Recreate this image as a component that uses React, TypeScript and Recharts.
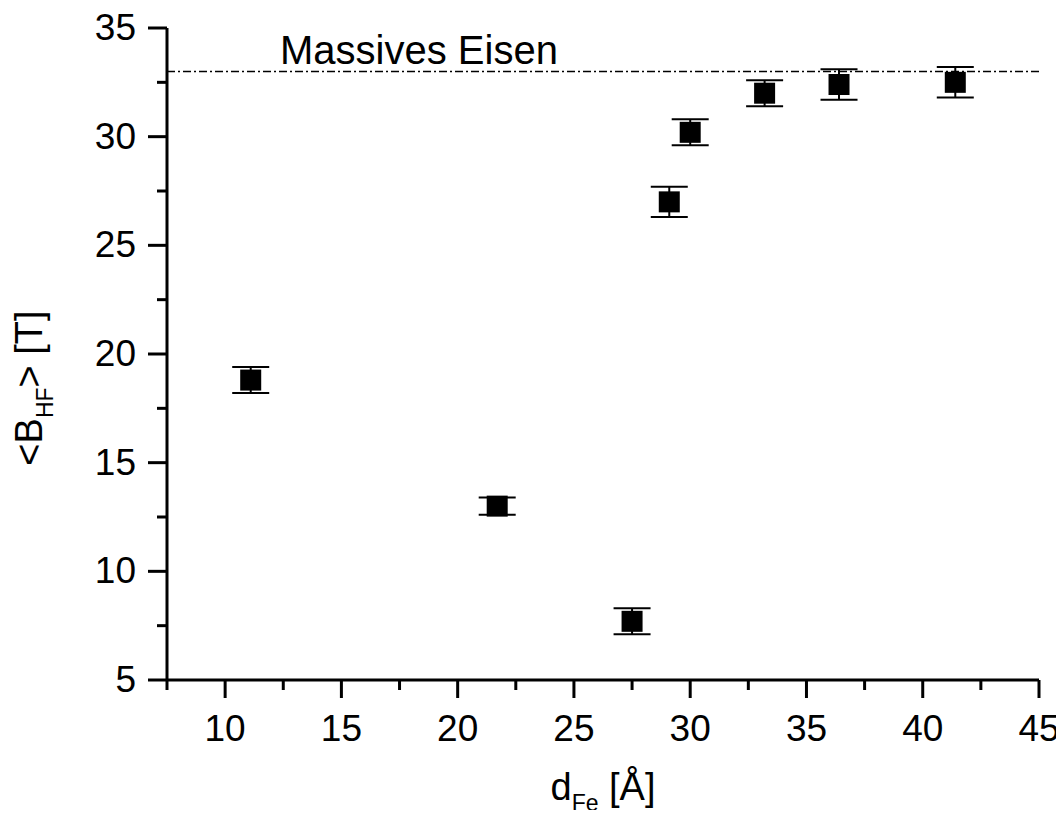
import { ScatterChart, Scatter, XAxis, YAxis, ErrorBar, ReferenceLine } from 'recharts';

// film thickness d_Fe [Å]
const thickness = [11.1, 21.7, 27.5, 29.1, 30.0, 33.2, 36.4, 41.4];
// mean hyperfine field <B_HF> [T]
const field = [18.8, 13.0, 7.7, 27.0, 30.2, 32.0, 32.4, 32.5];
// error bars [T]
const fieldErr = [0.6, 0.4, 0.6, 0.7, 0.6, 0.6, 0.7, 0.7];

// bulk iron reference value
const BULK_FE = 33;

// major ticks every 5, minor ticks in between
const xTicks = [7.5, 10, 12.5, 15, 17.5, 20, 22.5, 25, 27.5, 30, 32.5, 35, 37.5, 40, 42.5, 45];
const yTicks = [5, 7.5, 10, 12.5, 15, 17.5, 20, 22.5, 25, 27.5, 30, 32.5, 35];

const data = thickness.map((x, i) => ({ x, y: field[i], err: fieldErr[i] }));

const FONT = '"Liberation Sans", Arial, Helvetica, sans-serif';

const XTick = (props: any) => {
  const { x, y, payload } = props;
  const major = payload.value % 5 === 0;
  return (
    <g>
      <line x1={x} y1={y} x2={x} y2={y + (major ? 18 : 10)} stroke="#000" strokeWidth={3} />
      {major && (
        <text x={x} y={y + 61} textAnchor="middle" fontSize={37} fontFamily={FONT} fill="#000">
          {payload.value}
        </text>
      )}
    </g>
  );
};

const YTick = (props: any) => {
  const { x, y, payload } = props;
  const major = payload.value % 5 === 0;
  return (
    <g>
      <line x1={x} y1={y} x2={x - (major ? 19 : 10)} y2={y} stroke="#000" strokeWidth={3} />
      {major && (
        <text x={x - 31} y={y + 12} textAnchor="end" fontSize={37} fontFamily={FONT} fill="#000">
          {payload.value}
        </text>
      )}
    </g>
  );
};

const Square = (props: any) => {
  const { cx, cy } = props;
  return <rect x={cx - 10.5} y={cy - 10.5} width={21} height={21} fill="#000" />;
};

export default function App() {
  return (
    <div style={{ width: 1064, height: 818, margin: -8, background: '#fff' }}>
      <ScatterChart width={1064} height={818} margin={{ top: 28, right: 25, bottom: 78, left: 67 }}>
        <XAxis
          type="number"
          dataKey="x"
          domain={[7.5, 45]}
          ticks={xTicks}
          interval={0}
          height={60}
          allowDataOverflow
          axisLine={{ stroke: '#000', strokeWidth: 3 }}
          tickLine={false}
          tickSize={0}
          tickMargin={0}
          tick={<XTick />}
          label={{
            content: (p: any) => {
              const vb = p.viewBox;
              return (
                <text x={vb.x + vb.width / 2} y={vb.y + 120} textAnchor="middle" fontSize={38} fontFamily={FONT} fill="#000">
                  d
                  <tspan fontSize={23} dy={11}>Fe</tspan>
                  <tspan dy={-11}> [Å]</tspan>
                </text>
              );
            },
          }}
        />
        <YAxis
          type="number"
          dataKey="y"
          domain={[5, 35]}
          ticks={yTicks}
          interval={0}
          width={100}
          allowDataOverflow
          axisLine={{ stroke: '#000', strokeWidth: 3 }}
          tickLine={false}
          tickSize={0}
          tickMargin={0}
          tick={<YTick />}
          label={{
            content: () => (
              <text
                x={42}
                y={388}
                transform="rotate(-90, 42, 388)"
                textAnchor="middle"
                fontSize={38}
                fontFamily={FONT}
                fill="#000"
              >
                {'<B'}
                <tspan fontSize={23} dy={11}>HF</tspan>
                <tspan dy={-11}>{'> [T]'}</tspan>
              </text>
            ),
          }}
        />
        <ReferenceLine
          y={BULK_FE}
          stroke="#000"
          strokeWidth={1.5}
          strokeDasharray="8 3 2 3"
          label={{
            content: (p: any) => (
              <text x={p.viewBox.x + 113} y={p.viewBox.y - 7} fontSize={40} fontFamily={FONT} fill="#000">
                Massives Eisen
              </text>
            ),
          }}
        />
        <Scatter data={data} shape={<Square />} isAnimationActive={false}>
          <ErrorBar dataKey="err" direction="y" width={18.5} stroke="#000" strokeWidth={2} />
        </Scatter>
      </ScatterChart>
    </div>
  );
}
